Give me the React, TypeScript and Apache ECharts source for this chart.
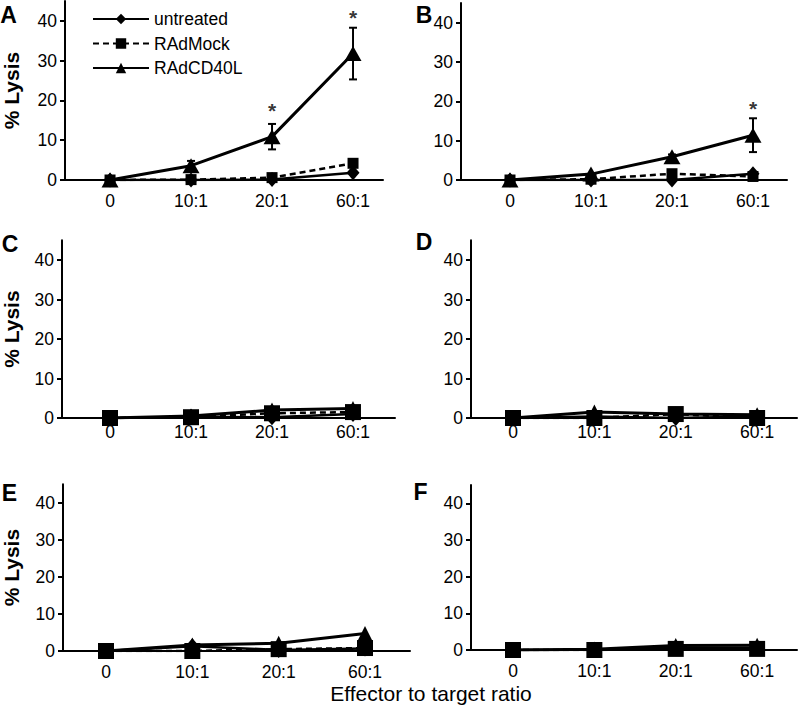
import React, { useEffect, useRef } from "react";
import * as echarts from "echarts";

// ---- data ----
const ratioLabels = ["0", "10:1", "20:1", "60:1"];
const seriesNames = ["untreated", "RAdMock", "RAdCD40L"];
const panelLetters = ["A", "B", "C", "D", "E", "F"];

const untreatedA = [0, 0, 0.1, 1.8];
const mockA = [0, 0.1, 0.6, 4.2];
const cd40lA = [0, 3.6, 10.9, 31.8];
const cd40lErrA = [0, 1.2, 3.2, 6.5];
const starsA = [null, null, 17.4, 40.8];

const untreatedB = [0, 0, 0, 1.6];
const mockB = [0, 0.2, 1.6, 0.9];
const cd40lB = [0, 1.5, 5.9, 11.4];
const cd40lErrB = [0, 0, 0.6, 4.3];
const starsB = [null, null, null, 18.3];

const untreatedC = [0, 0.3, 0.2, 1.0];
const mockC = [0, 0.2, 1.2, 1.5];
const cd40lC = [0, 0.5, 2.0, 2.4];

const untreatedD = [0, 0.4, 0, 0.4];
const mockD = [0, 0, 1.0, 0];
const cd40lD = [0, 1.5, 1.0, 0.8];

const untreatedE = [0, 1.3, 0.3, 0.7];
const mockE = [0, 0, 0.5, 0.8];
const cd40lE = [0, 1.6, 2.1, 4.7];

const untreatedF = [0, 0.1, 0.6, 0.6];
const mockF = [0, 0, 0.3, 0.3];
const cd40lF = [0, 0.2, 1.2, 1.3];

const yTicks = [0, 10, 20, 30, 40];
const yMax = 45;
const yAxisTitle = "% Lysis";
const xAxisTitle = "Effector to target ratio";

const panelData = [
  { u: untreatedA, m: mockA, c: cd40lA, err: cd40lErrA, stars: starsA },
  { u: untreatedB, m: mockB, c: cd40lB, err: cd40lErrB, stars: starsB },
  { u: untreatedC, m: mockC, c: cd40lC, err: null, stars: null },
  { u: untreatedD, m: mockD, c: cd40lD, err: null, stars: null },
  { u: untreatedE, m: mockE, c: cd40lE, err: null, stars: null },
  { u: untreatedF, m: mockF, c: cd40lF, err: null, stars: null },
];

// ---- layout ----
const layouts = [
  { left: 65, top: 1.1, width: 318, height: 178.9, xMin: -0.556, xMax: 3.37, lm: 12, title: true, letter: [8.5, 15], big: false },
  { left: 461, top: 3.1, width: 326, height: 176.9, xMin: -0.605, xMax: 3.42, lm: 12, title: false, letter: [424, 15], big: false },
  { left: 62, top: 240.25, width: 333, height: 177.75, xMin: -0.593, xMax: 3.519, lm: 5, title: true, letter: [10, 243.5], big: true },
  { left: 471, top: 240.25, width: 326, height: 177.75, xMin: -0.516, xMax: 3.49, lm: 5, title: false, letter: [424, 242], big: true },
  { left: 63, top: 484.2, width: 347, height: 166.8, xMin: -0.498, xMax: 3.521, lm: 12, title: true, letter: [9.5, 493], big: true },
  { left: 471, top: 485, width: 326, height: 165, xMin: -0.516, xMax: 3.49, lm: 12, title: false, letter: [420.5, 492], big: true },
];

const FONT = "'Liberation Sans', Arial, sans-serif";
const TICK_FONT = 17.5;

function buildOption() {
  const grid: any[] = [];
  const xAxis: any[] = [];
  const yAxis: any[] = [];
  const series: any[] = [];
  const graphic: any[] = [];

  layouts.forEach((L, i) => {
    grid.push({ left: L.left, top: L.top, width: L.width, height: L.height, outerBoundsMode: "none", containLabel: false });
    xAxis.push({
      type: "value",
      gridIndex: i,
      min: L.xMin,
      max: L.xMax,
      axisLine: { show: true, onZero: false, lineStyle: { color: "#000", width: 2 } },
      axisTick: { show: false },
      splitLine: { show: false },
      axisLabel: {
        customValues: [0, 1, 2, 3],
        margin: L.lm,
        fontSize: TICK_FONT,
        color: "#000",
        fontFamily: FONT,
        formatter: (v: number) => {
          const r = Math.round(v);
          return Math.abs(v - r) < 1e-6 && r >= 0 && r < ratioLabels.length ? ratioLabels[r] : "";
        },
      },
    });
    yAxis.push({
      type: "value",
      gridIndex: i,
      min: 0,
      max: yMax,
      interval: 10,
      name: L.title ? yAxisTitle : "",
      nameLocation: "middle",
      nameGap: L.left - 11 - 11,
      nameTextStyle: { fontSize: 21, fontWeight: "bold", color: "#000", fontFamily: FONT },
      axisLine: { show: true, onZero: false, lineStyle: { color: "#000", width: 2 } },
      axisTick: { show: true, customValues: yTicks, length: 5, lineStyle: { color: "#000", width: 2 } },
      splitLine: { show: false },
      axisLabel: {
        customValues: yTicks,
        margin: 8,
        fontSize: TICK_FONT,
        color: "#000",
        fontFamily: FONT,
        formatter: (v: number) => (yTicks.indexOf(v) >= 0 ? String(v) : ""),
      },
    });

    const d = panelData[i];
    const sq = L.big ? 16 : 11;
    const tri = L.big ? [15, 15] : [17, 15];
    const dia = L.big ? [14, 16] : [13, 15];
    const mk = (arr: number[]) => arr.map((v, j) => [j, v]);

    series.push({
      name: seriesNames[0],
      type: "line",
      xAxisIndex: i,
      yAxisIndex: i,
      data: mk(d.u),
      symbol: "diamond",
      symbolSize: dia,
      lineStyle: { color: "#000", width: 2.5, type: "solid" },
      itemStyle: { color: "#000" },
      z: 2,
    });
    series.push({
      name: seriesNames[1],
      type: "line",
      xAxisIndex: i,
      yAxisIndex: i,
      data: mk(d.m),
      symbol: "rect",
      symbolSize: sq,
      lineStyle: { color: "#000", width: 2.5, type: [6, 4] },
      itemStyle: { color: "#000" },
      z: 3,
    });
    series.push({
      name: seriesNames[2],
      type: "line",
      xAxisIndex: i,
      yAxisIndex: i,
      data: mk(d.c),
      symbol: "triangle",
      symbolSize: tri,
      lineStyle: { color: "#000", width: 3, type: "solid" },
      itemStyle: { color: "#000" },
      z: 4,
    });

    if (d.err) {
      const errData = d.err
        .map((e, j) => [j, d.c[j], e])
        .filter((r) => (r[2] as number) > 0);
      series.push({
        type: "custom",
        xAxisIndex: i,
        yAxisIndex: i,
        data: errData,
        silent: true,
        z: 5,
        renderItem: (_p: any, api: any) => {
          const x = api.value(0);
          const y = api.value(1);
          const e = api.value(2);
          const t = api.coord([x, y + e]);
          const b = api.coord([x, y - e]);
          const st = { stroke: "#000", lineWidth: 2 };
          return {
            type: "group",
            children: [
              { type: "line", shape: { x1: t[0], y1: t[1], x2: b[0], y2: b[1] }, style: st },
              { type: "line", shape: { x1: t[0] - 4, y1: t[1], x2: t[0] + 4, y2: t[1] }, style: st },
              { type: "line", shape: { x1: b[0] - 4, y1: b[1], x2: b[0] + 4, y2: b[1] }, style: st },
            ],
          };
        },
      });
    }
    if (d.stars) {
      const starData = d.stars
        .map((v, j) => (v == null ? null : [j, v]))
        .filter((r) => r != null);
      series.push({
        type: "scatter",
        xAxisIndex: i,
        yAxisIndex: i,
        data: starData,
        symbol: "circle",
        symbolSize: 1,
        silent: true,
        itemStyle: { color: "rgba(0,0,0,0)" },
        label: {
          show: true,
          position: "inside",
          formatter: "*",
          fontSize: 21,
          fontWeight: "bold",
          color: "#000",
          fontFamily: FONT,
        },
        z: 6,
      });
    }

    graphic.push({
      type: "text",
      x: L.letter[0],
      y: L.letter[1],
      style: {
        text: panelLetters[i],
        fontSize: 23,
        fontWeight: "bold",
        fill: "#000",
        align: "center",
        verticalAlign: "middle",
        fontFamily: FONT,
      },
    });
  });

  graphic.push({
    type: "text",
    x: 431,
    y: 693,
    style: {
      text: xAxisTitle,
      fontSize: 21,
      fill: "#000",
      align: "center",
      verticalAlign: "middle",
      fontFamily: FONT,
    },
  });

  return {
    animation: false,
    backgroundColor: "#fff",
    textStyle: { fontFamily: FONT },
    grid,
    xAxis,
    yAxis,
    series,
    graphic,
    legend: {
      data: seriesNames,
      orient: "vertical",
      left: 92,
      top: 10,
      padding: 0,
      itemWidth: 56,
      itemHeight: 13,
      itemGap: 6.5,
      textStyle: { fontSize: 17.5, color: "#000", fontFamily: FONT },
      selectedMode: false,
    },
  };
}

export default function App() {
  const ref = useRef<HTMLDivElement>(null);
  useEffect(() => {
    if (!ref.current) return;
    const chart = echarts.init(ref.current, undefined, { renderer: "svg" });
    chart.setOption(buildOption() as any);
    return () => chart.dispose();
  }, []);
  return (
    <div
      ref={ref}
      style={{ position: "fixed", left: 0, top: 0, width: 799, height: 714, background: "#fff" }}
    />
  );
}
